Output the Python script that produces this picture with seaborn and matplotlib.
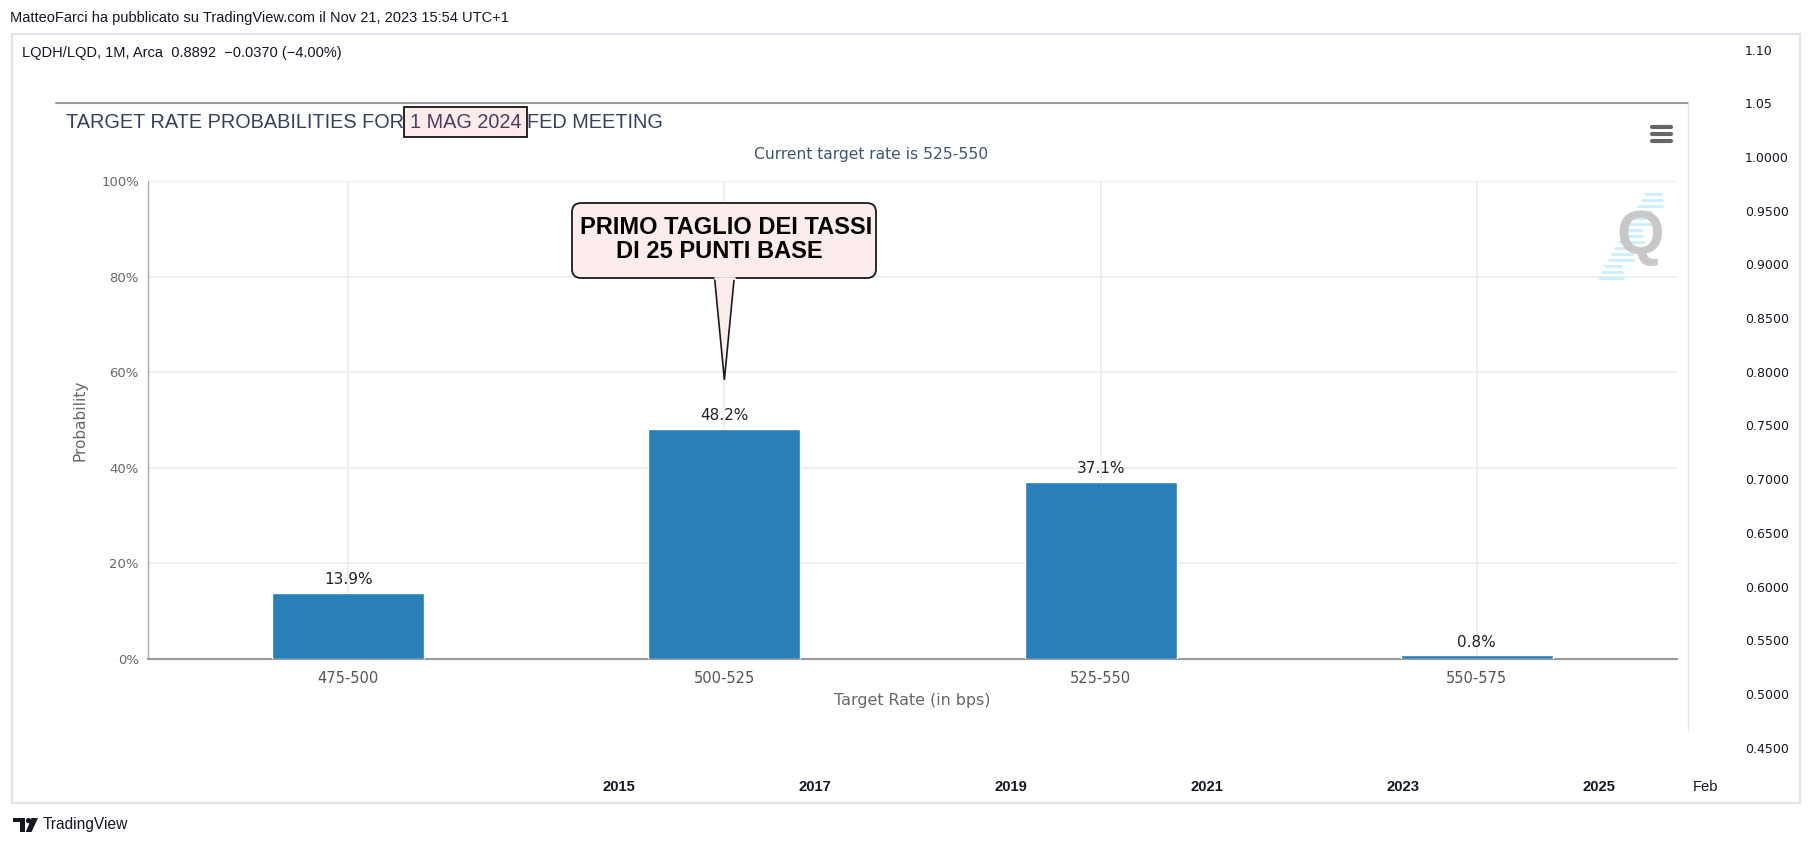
import matplotlib
matplotlib.use("Agg")
import matplotlib.pyplot as plt
import seaborn as sns
import pandas as pd
from matplotlib import font_manager
from matplotlib.patches import Rectangle, FancyBboxPatch, Polygon, Circle
from matplotlib.ticker import FuncFormatter

# --- data ---
rate_ranges = ["475-500", "500-525", "525-550", "550-575"]
probabilities = [13.9, 48.2, 37.1, 0.8]
prob_ticks = [0, 20, 40, 60, 80, 100]
meeting_date = "1 MAG 2024"
current_rate = "525-550"
callout_lines = ["PRIMO TAGLIO DEI TASSI", "DI 25 PUNTI BASE"]
callout_bar = "500-525"

price_ticks = [1.10, 1.05, 1.00, 0.95, 0.90, 0.85, 0.80, 0.75, 0.70, 0.65, 0.60, 0.55, 0.50, 0.45]
price_labels = ["1.10", "1.05", "1.0000", "0.9500", "0.9000", "0.8500", "0.8000",
                "0.7500", "0.7000", "0.6500", "0.6000", "0.5500", "0.5000", "0.4500"]
year_ticks = [2015, 2017, 2019, 2021, 2023, 2025, 2026 + 1 / 12]
year_labels = ["2015", "2017", "2019", "2021", "2023", "2025", "Feb"]

header = "MatteoFarci ha pubblicato su TradingView.com il Nov 21, 2023 15:54 UTC+1"
legend_line = "LQDH/LQD, 1M, Arca  0.8892  \u22120.0370 (\u22124.00%)"

W, H = 1814, 847

sns.set_style("white")
names = {f.name for f in font_manager.fontManager.ttflist}
narrow = next((n for n in ["Liberation Sans Narrow", "DejaVu Sans Condensed"] if n in names), "Liberation Sans")
plt.rcParams["font.family"] = ["DejaVu Sans"]


def rect(l, t, r, b):
    return [l / W, 1 - b / H, (r - l) / W, (b - t) / H]


fig = plt.figure(figsize=(W / 100, H / 100), dpi=100)
fig.patch.set_facecolor("white")

# TradingView pane (price scale + time scale)
tv = fig.add_axes(rect(13, 34, 1740, 770), zorder=0)
tv.set_xlim(2008.82, 2026.44)
tv.set_ylim(0.4292, 1.1145)
for s in tv.spines.values():
    s.set_visible(False)
tv.yaxis.tick_right()
tv.set_yticks(price_ticks, price_labels)
tv.set_xticks(year_ticks, year_labels)
tv.tick_params(axis="y", length=0, pad=3.6, labelsize=9, labelcolor="#131722")
tv.tick_params(axis="x", length=0, pad=7, labelsize=10.6, labelcolor="#131722")
for lab in tv.get_xticklabels():
    lab.set_fontfamily(narrow)
    if lab.get_text() != "Feb":
        lab.set_fontweight("bold")

# CME probability chart
ax = fig.add_axes(rect(148, 181, 1677, 659), zorder=2)
df = pd.DataFrame({"Target Rate": rate_ranges, "Probability": probabilities})
sns.barplot(data=df, x="Target Rate", y="Probability", color="#2980b9",
            saturation=1, width=0.404, ax=ax, zorder=3)
ax.set_xlim(-0.532, 3.532)
ax.set_ylim(0, 100)
ax.set_yticks(prob_ticks)
ax.yaxis.set_major_formatter(FuncFormatter(lambda v, _: f"{v:.0f}%"))
ax.set_axisbelow(True)
ax.grid(True, color="#e9e9e9", lw=1.1)
for s in ["top", "right"]:
    ax.spines[s].set_visible(False)
ax.spines["left"].set_color("#a8a8a8")
ax.spines["left"].set_linewidth(1)
ax.spines["bottom"].set_color("#9a9a9a")
ax.spines["bottom"].set_linewidth(1.5)
ax.tick_params(axis="y", length=0, pad=6.5, labelsize=9.5, labelcolor="#666666")
ax.tick_params(axis="x", length=4.3, color="#ccd6eb", pad=4, labelsize=10.5, labelcolor="#555555")
ax.bar_label(ax.containers[0], labels=[f"{p}%" for p in probabilities],
             padding=4, fontsize=11, color="#222222")
ax.set_xlabel("Target Rate (in bps)", fontsize=11.4, color="#666666", va="center")
ax.xaxis.set_label_coords(0.5, -(701 - 659) / 478)
ax.set_ylabel("Probability", fontsize=11.1, color="#666666", va="center")
ax.yaxis.set_label_coords(-(148 - 80) / 1529, 0.5)

# overlay in pixel coordinates
ov = fig.add_axes([0, 0, 1, 1], zorder=5)
ov.set_xlim(0, W)
ov.set_ylim(H, 0)
ov.axis("off")
ov.patch.set_alpha(0)

ov.add_patch(Rectangle((12, 34), 1788, 769, fill=False, ec="#e0e3eb", lw=1.5))
ov.plot([56, 1688], [103, 103], color="#9a9a9a", lw=1.5)
ov.plot([1688, 1688], [103, 730], color="#e8e8e8", lw=1)

ov.text(10, 18, header, fontsize=10.5, family=narrow, color="#131722", va="center")
ov.text(22, 53, legend_line, fontsize=10.5, family=narrow, color="#131722", va="center")

title_color = "#34405e"
t1 = ov.text(66, 122, "TARGET RATE PROBABILITIES FOR", fontsize=14.3, family=narrow,
             color=title_color, va="center")
t2 = ov.annotate(meeting_date, xy=(1, 0.5), xycoords=t1, xytext=(4, 0), textcoords="offset points",
                 fontsize=14.3, family=narrow, color="#4a3e5e", va="center",
                 bbox=dict(boxstyle="square,pad=0.3", fc="#fdeaea", ec="black", lw=1.2))
ov.annotate("FED MEETING", xy=(1, 0.5), xycoords=t2, xytext=(4, 0), textcoords="offset points",
            fontsize=14.3, family=narrow, color=title_color, va="center")
ov.text(871, 154, f"Current target rate is {current_rate}", fontsize=11.2,
        color="#3e5575", ha="center", va="center")

# callout pointing at the first cut bar
bar_idx = rate_ranges.index(callout_bar)
disp = ax.transData.transform((bar_idx, 58.4))
tip_x, tip_y = ov.transData.inverted().transform(disp)
ov.add_patch(Polygon([(tip_x - 10, 276), (tip_x + 10, 276), (tip_x, tip_y)], closed=True,
                     fc="#fdecec", ec="#1a1a1a", lw=1.2, zorder=6))
ov.add_patch(FancyBboxPatch((572, 203), 304, 75, boxstyle="round,pad=0,rounding_size=9",
                            fc="#fdecec", ec="#1a1a1a", lw=1.3, zorder=7))
ov.plot([tip_x - 9.3, tip_x + 9.3], [278, 278], color="#fdecec", lw=2, zorder=8)
ov.text(726, 227, callout_lines[0], fontsize=17, family=narrow, weight="bold",
        color="black", ha="center", va="center", zorder=9)
ov.text(719, 252, callout_lines[1], fontsize=17, family=narrow, weight="bold",
        color="black", ha="center", va="center", zorder=9)

# hamburger menu
for y in [127, 134, 141]:
    ov.plot([1652, 1671], [y, y], color="#666666", lw=3, solid_capstyle="round")

# Q logo with speed lines
for i, y in enumerate(range(194, 281, 6)):
    x_start = 1645 - (y - 194) * 0.55
    ov.plot([x_start, x_start + 16 + (i % 3) * 4], [y, y], color="#c9eefc", lw=2, zorder=5)
ov.text(1640, 238, "Q", fontsize=44, family=narrow, weight="bold", color="#c8c8c8",
        ha="center", va="center", zorder=6)

# TradingView footer logo
ov.add_patch(Polygon([(13, 818), (25, 818), (25, 832), (19.5, 832), (19.5, 822.5), (13, 822.5)],
                     closed=True, fc="#131722", ec="none"))
ov.add_patch(Circle((28.5, 820.6), 2.6, fc="#131722", ec="none"))
ov.add_patch(Polygon([(31.5, 818), (38, 818), (31.5, 832), (25.8, 832)], closed=True,
                     fc="#131722", ec="none"))
ov.text(43, 825, "TradingView", fontsize=11.2, family="Liberation Sans", color="#131722", va="center")

fig.savefig("out.png", dpi=100, facecolor="white")
